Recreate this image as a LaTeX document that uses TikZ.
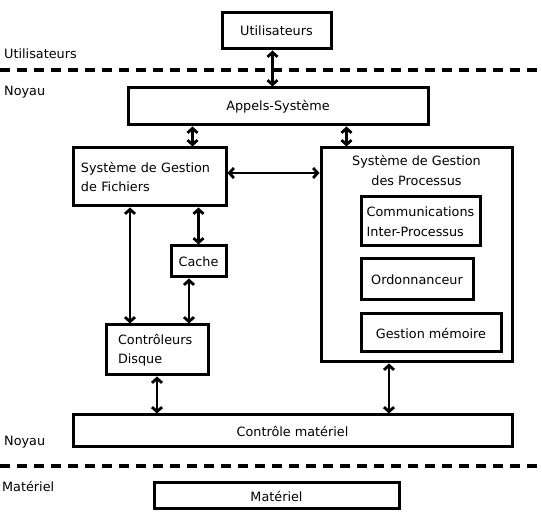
\documentclass[tikz,border=0pt]{standalone}
\usepackage{fontspec}
\setmainfont{DejaVu Sans}
\usetikzlibrary{arrows.meta,positioning}
\begin{document}
\begin{tikzpicture}[x=1pt, y=-1pt, >={Straight Barb[length=4.5pt,width=10pt]},
    box/.style={draw, line width=3pt, inner sep=0pt, font=\fontsize{12.8}{19.5}\selectfont},
    txt/.style={inner sep=0pt, font=\fontsize{12.8}{19.5}\selectfont},
    dbl/.style={<->, line width=2.8pt},
    sep/.style={line width=4pt, dash pattern=on 10pt off 7pt}]
\useasboundingbox (0,0) rectangle (542,521);
\node[box, minimum width=109, minimum height=36] (util) at (276.5,31) {Utilisateurs};
\node[box, minimum width=300, minimum height=37] (appels) at (278,106.5) {Appels-Système};
\node[box, minimum width=153, minimum height=58, align=left, text width=137, inner xsep=8] (sgf) at (149.5,177) {Système de Gestion\\de Fichiers};
\node[box, minimum width=191, minimum height=214] (sgp) at (416.5,255) {};
\node[txt, align=center, below=9pt of sgp.north] (sgpt) {Système de Gestion\\des Processus};
\node[box, minimum width=119, minimum height=49, align=left] (ipc) at (420.5,221.5) {Communications\\Inter-Processus};
\node[box, minimum width=112, minimum height=41] (ordo) at (417,279.5) {Ordonnanceur};
\node[box, minimum width=140, minimum height=38] (mem) at (431,333) {Gestion mémoire};
\node[box, minimum width=55, minimum height=31] (cache) at (198.5,261.5) {Cache};
\node[box, minimum width=102, minimum height=50, align=left, text width=78, inner xsep=12] (ctrl) at (157,350) {Contrôleurs\\Disque};
\node[box, minimum width=439, minimum height=32] (cmat) at (292.5,431) {Contrôle matériel};
\node[box, minimum width=245, minimum height=26] (mat) at (276.5,496) {Matériel};
% couches
\draw[sep] (0,70) -- (542,70);
\draw[sep] (0,466) -- (542,466);
\node[txt, right] (lutil) at (4,54) {Utilisateurs};
\node[txt, right] (lnoy1) at (4,92) {Noyau};
\node[txt, right] (lnoy2) at (4,442) {Noyau};
\node[txt, right] (lmat) at (2,486) {Matériel};
% liens
\draw[dbl] ([xshift=-4pt]util.south) -- ([xshift=-4pt]util.south |- appels.north);
\draw[dbl] ([xshift=43pt]sgf.north) -- ([xshift=43pt]sgf.north |- appels.south);
\draw[dbl] ([xshift=-70pt]sgp.north) -- ([xshift=-70pt]sgp.north |- appels.south);
\draw[dbl] ([yshift=4pt]sgf.east) -- ([yshift=4pt]sgf.east -| sgp.west);
\draw[dbl] (cache.north) -- (cache.north |- sgf.south);
\draw[dbl] ([xshift=-27pt]ctrl.north) -- ([xshift=-27pt]ctrl.north |- sgf.south);
\draw[dbl] ([xshift=32pt]ctrl.north) -- ([xshift=32pt]ctrl.north |- cache.south);
\draw[dbl] (ctrl.south) -- (ctrl.south |- cmat.north);
\draw[dbl] ([xshift=-27.5pt]sgp.south) -- ([xshift=-27.5pt]sgp.south |- cmat.north);
\end{tikzpicture}
\end{document}
